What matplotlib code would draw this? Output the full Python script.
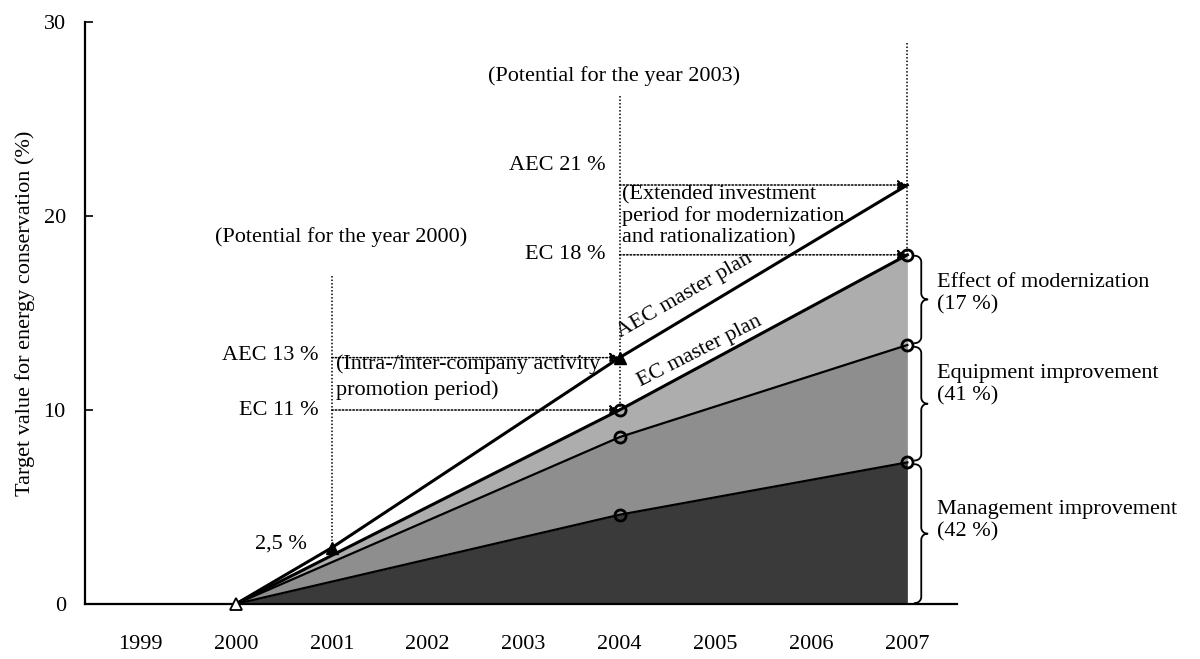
import numpy as np
import matplotlib
matplotlib.use("Agg")
import matplotlib.pyplot as plt

plt.rcParams['font.family'] = ['Liberation Serif', 'DejaVu Serif']

# data
years = [1999, 2000, 2001, 2002, 2003, 2004, 2005, 2006, 2007]
area_x = [2000, 2004, 2007]
management = [0, 4.6, 7.3]      # top of management improvement
equipment = [0, 8.6, 13.35]     # top of equipment improvement
ec_plan = [0, 10.0, 18.0]       # EC master plan (top of modernization)
aec_x = [2000, 2001, 2004, 2007]
aec_plan = [0, 2.9, 12.7, 21.6] # AEC master plan

FS = 16

def brace(ax, x, y0, y1, rx, ry):
    ym = (y0 + y1) / 2
    t = np.linspace(0, np.pi / 2, 20)
    px, py = [], []
    # top curl
    px += list(x + rx * np.cos(np.pi/2 - t)); py += list(y1 - ry + ry * np.sin(np.pi/2 - t))
    # to tip
    px += list(x + 2*rx + rx * np.cos(np.pi + t)); py += list(ym + ry + ry * np.sin(np.pi + t))
    px += list(x + 2*rx + rx * np.cos(np.pi/2 + t)); py += list(ym - ry + ry * np.sin(np.pi/2 + t))
    # bottom curl
    px += list(x + rx * np.cos(-t)); py += list(y0 + ry + ry * np.sin(-t))
    ax.plot(px, py, color='k', lw=1.3, clip_on=False)

fig = plt.figure(figsize=(12, 6.59), dpi=100)
ax = fig.add_axes([0.071, 0.0835, 0.7267, 0.883])

ax.fill_between(area_x, 0, management, color='#3a3a3a', lw=0, zorder=1)
ax.fill_between(area_x, management, equipment, color='#8e8e8e', lw=0, zorder=1)
ax.fill_between(area_x, equipment, ec_plan, color='#adadad', lw=0, zorder=1)

ax.plot(aec_x, aec_plan, color='k', lw=2.2, zorder=3)
ax.plot(area_x, ec_plan, color='k', lw=2.2, zorder=3)
ax.plot(area_x, equipment, color='k', lw=1.6, zorder=3)
ax.plot(area_x, management, color='k', lw=1.6, zorder=3)

for s in (ec_plan, equipment, management):
    ax.plot(area_x[1:], s[1:], 'o', ms=8, mfc='none', mec='k', mew=2, zorder=5)
ax.plot(aec_x[1:3], aec_plan[1:3], '^', ms=8, color='k', zorder=5)
ax.plot([2000], [0], '^', ms=8, mfc='white', mec='k', mew=1.3, zorder=5, clip_on=False)

# dotted guide lines
dot = (0, (1, 1.3))
ax.plot([2001, 2001], [16.9, aec_plan[1]], color='k', lw=1.1, ls=dot, zorder=2)
ax.plot([2004, 2004], [26.2, ec_plan[1]], color='k', lw=1.1, ls=dot, zorder=2)
ax.plot([2007, 2007], [28.9, ec_plan[2]], color='k', lw=1.1, ls=dot, zorder=2)
for x0, x1, yv in [(2001, 2004, aec_plan[2]), (2001, 2004, ec_plan[1]),
                   (2004, 2007, aec_plan[3]), (2004, 2007, ec_plan[2])]:
    ax.annotate('', xy=(x1, yv), xytext=(x0, yv),
                arrowprops=dict(arrowstyle='-|>', color='k', lw=1.1, ls=dot,
                                shrinkA=0, shrinkB=0, mutation_scale=14), zorder=4)

# annotations
ax.text(2001.1, 18.9, '(Potential for the year 2000)', fontsize=FS, ha='center', va='center')
ax.text(2003.94, 27.2, '(Potential for the year 2003)', fontsize=FS, ha='center', va='center')
ax.text(2003.85, 22.6, 'AEC 21 %', fontsize=FS, ha='right', va='center')
ax.text(2003.85, 18.0, 'EC 18 %', fontsize=FS, ha='right', va='center')
ax.text(2000.86, 12.8, 'AEC 13 %', fontsize=FS, ha='right', va='center')
ax.text(2000.86, 10.0, 'EC 11 %', fontsize=FS, ha='right', va='center')
ax.text(2000.74, 3.1, '2,5 %', fontsize=FS, ha='right', va='center')
ax.text(2001.04, 11.7, '(Intra-/inter-company activity\npromotion period)',
        fontsize=FS, ha='left', va='center', linespacing=1.45)
ax.text(2004.03, 20.0, '(Extended investment\nperiod for modernization\nand rationalization)',
        fontsize=FS, ha='left', va='center', linespacing=1.12)
ax.text(2004.68, 15.9, 'AEC master plan', fontsize=FS, ha='center', va='center',
        rotation=30, rotation_mode='anchor')
ax.text(2004.84, 13.0, 'EC master plan', fontsize=FS, ha='center', va='center',
        rotation=27, rotation_mode='anchor')

# braces and right labels
rx, ry = 0.065, 0.32
brace(ax, 2007.08, equipment[2] + 0.1, ec_plan[2] - 0.05, rx, ry)
brace(ax, 2007.08, management[2] + 0.1, equipment[2] - 0.1, rx, ry)
brace(ax, 2007.08, 0.05, management[2] - 0.1, rx, ry)
ax.text(2007.31, 16.0, 'Effect of modernization\n(17 %)', fontsize=FS, ha='left', va='center', linespacing=1.25)
ax.text(2007.31, 11.3, 'Equipment improvement\n(41 %)', fontsize=FS, ha='left', va='center', linespacing=1.25)
ax.text(2007.31, 4.3, 'Management improvement\n(42 %)', fontsize=FS, ha='left', va='center', linespacing=1.25)

ax.set_xlim(1998.43, 2007.52)
ax.set_ylim(0, 30)
ax.set_xticks(years)
ax.set_yticks([0, 10, 20, 30])
ax.tick_params(axis='x', length=0, pad=22, labelsize=FS)
ax.tick_params(axis='y', direction='in', length=6, width=1.2, pad=14, labelsize=FS)
for side in ('top', 'right'):
    ax.spines[side].set_visible(False)
ax.spines['left'].set_linewidth(1.6)
ax.spines['bottom'].set_linewidth(1.6)

fig.text(25 / 1200, 1 - 313 / 659, 'Target value for energy conservation (%)',
         fontsize=FS, rotation=90, ha='center', va='center')

fig.savefig('out.png', dpi=100)
